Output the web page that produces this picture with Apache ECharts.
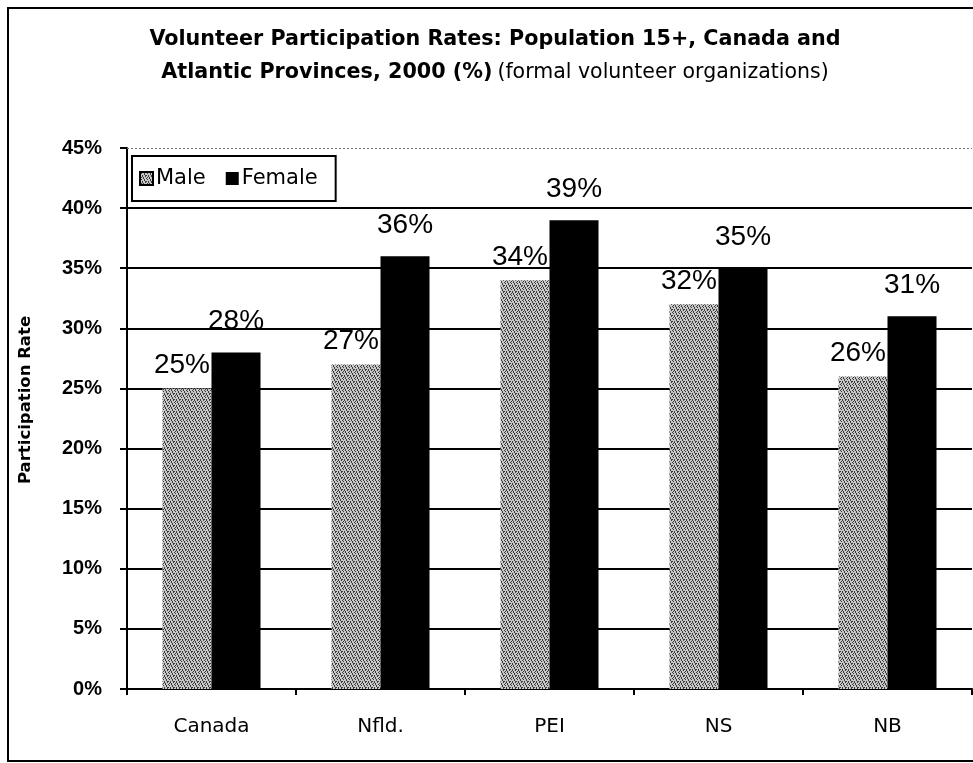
<!DOCTYPE html>
<html><head><meta charset="utf-8">
<script src="https://cdn.jsdelivr.net/npm/echarts@6/dist/echarts.min.js"></script>
<style>html,body{margin:0;padding:0;background:#fff}#c{width:973px;height:763px}</style>
</head><body><div id="c"></div>
<script>
const categories = ['Canada', 'Nfld.', 'PEI', 'NS', 'NB'];
const maleValues = [25, 27, 34, 32, 26];
const femaleValues = [28, 36, 39, 35, 31];
const yTicks = [0, 5, 10, 15, 20, 25, 30, 35, 40, 45];
const yAxisTitle = 'Participation Rate';

// stipple texture for the Male bars
const pat = document.createElement('canvas');
pat.width = 6; pat.height = 6;
(function () {
  const g = pat.getContext('2d');
  g.fillStyle = '#c8c8c8'; g.fillRect(0, 0, 6, 6);
  g.fillStyle = '#3a3a3a';
  const dots = [[0,0],[3,0],[1,1],[4,1],[4,2],[0,3],[2,3],[5,3],[5,4],[2,4],[3,5],[1,5]];
  dots.forEach(d => g.fillRect(d[0], d[1], 1, 1));
})();

const chart = echarts.init(document.getElementById('c'), null, {renderer: 'canvas'});
const A = 'Arial, "Liberation Sans", sans-serif';
const D = '"DejaVu Sans", sans-serif';
const lbl = {show: true, position: 'top', formatter: p => p.value + '%', color: '#000', fontSize: 28, fontFamily: A};
const topGrid = 45;
chart.setOption({
  animation: false,
  backgroundColor: '#fff',
  graphic: [
    {type: 'rect', shape: {x: 8, y: 8, width: 975, height: 753}, style: {fill: 'none', stroke: '#000', lineWidth: 2}, z: 0},
    {type: 'text', x: 26, y: 400, rotation: Math.PI / 2,
     style: {text: yAxisTitle, fontFamily: D, fontWeight: 'bold', fontSize: 16.5, fill: '#000', align: 'center', verticalAlign: 'middle'}}
  ],
  title: {
    left: 490, top: 18, textAlign: 'center',
    text: '{b|Volunteer Participation Rates: Population 15+, Canada and}\n{b|Atlantic Provinces, 2000 (%)} {n|(formal volunteer organizations)}',
    textStyle: {fontWeight: 'normal', rich: {
      b: {fontFamily: D, fontWeight: 'bold', fontSize: 20.7, color: '#000', lineHeight: 33},
      n: {fontFamily: D, fontWeight: 'normal', fontSize: 20.5, color: '#000', lineHeight: 33}
    }}
  },
  legend: {
    left: 132, top: 156, itemWidth: 13, itemHeight: 13, itemGap: 20,
    borderColor: '#000', borderWidth: 2, padding: [12, 18, 12, 7],
    textStyle: {fontFamily: D, fontSize: 21, color: '#000', padding: [0, 0, 0, -2]},
    icon: 'rect',
    data: [{name: 'Male', itemStyle: {borderColor: '#000', borderWidth: 2}}, {name: 'Female'}]
  },
  grid: {left: 127, right: 1, top: 148, bottom: 74, containLabel: false},
  xAxis: {
    type: 'category', data: categories,
    axisLine: {lineStyle: {color: '#000', width: 2}},
    axisTick: {show: true, length: 6, lineStyle: {color: '#000', width: 2}},
    axisLabel: {fontFamily: D, fontSize: 20, color: '#000', margin: 28}
  },
  yAxis: {
    type: 'value', min: 0, max: 45, interval: 5,
    axisLine: {show: true, lineStyle: {color: '#000', width: 2}},
    axisTick: {show: true, length: 7, lineStyle: {color: '#000', width: 2}},
    axisLabel: {fontFamily: A, fontWeight: 'bold', fontSize: 20, color: '#000', margin: 25,
      formatter: v => yTicks.includes(v) ? v + '%' : ''},
    splitLine: {show: true, lineStyle: {color: yTicks.map(v => v === topGrid ? 'rgba(0,0,0,0)' : '#000'), width: 2}}
  },
  series: [
    {name: 'Male', type: 'bar', data: maleValues, barGap: '0%', barCategoryGap: '42%',
     itemStyle: {color: {image: pat, repeat: 'repeat'}},
     label: Object.assign({}, lbl, {distance: 9, offset: [-5, 0]}),
     markLine: {silent: true, symbol: 'none', label: {show: false},
       lineStyle: {color: '#777', type: [2, 2], width: 1},
       data: [{yAxis: topGrid}]}},
    {name: 'Female', type: 'bar', data: femaleValues, barGap: '0%', barCategoryGap: '42%',
     itemStyle: {color: '#000'}, label: Object.assign({}, lbl, {distance: 17})}
  ]
});
</script></body></html>
